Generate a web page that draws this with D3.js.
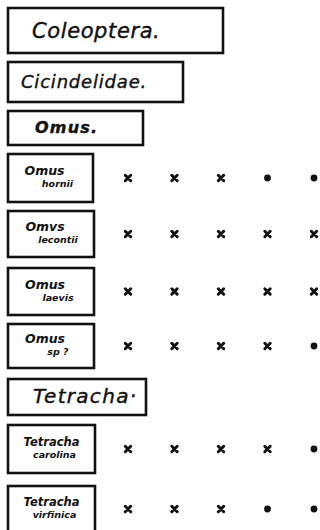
<!DOCTYPE html>
<html><head><meta charset="utf-8">
<script src="https://cdn.jsdelivr.net/npm/d3@7"></script>
<style>html,body{margin:0;padding:0;background:#fff;}svg{display:block;}</style>
</head><body>
<svg id="c" width="320" height="530"></svg>
<script>
// ---- data ----
const rowNames = ["Coleoptera", "Cicindelidae", "Omus", "Omus hornii", "Omus lecontii", "Omus laevis", "Omus sp?", "Tetracha", "Tetracha carolina", "Tetracha virfinica"];
const rowKinds = ["header", "header", "header", "species", "species", "species", "species", "header", "species", "species"];
const rowLine1 = ["Coleoptera.", "Cicindelidae.", "Omus.", "Omus", "Omvs", "Omus", "Omus", "Tetracha·", "Tetracha", "Tetracha"];
const rowLine2 = ["", "", "", "hornii", "lecontii", "laevis", "sp ?", "", "carolina", "virfinica"];
const columns = ["1", "2", "3", "4", "5"];
// presence marks per species: "x" cross, "o" dot
const omusHornii = ["x", "x", "x", "o", "o"];
const omusLecontii = ["x", "x", "x", "x", "x"];
const omusLaevis = ["x", "x", "x", "x", "x"];
const omusSp = ["x", "x", "x", "x", "o"];
const tetrachaCarolina = ["x", "x", "x", "x", "o"];
const tetrachaVirfinica = ["x", "x", "x", "o", "o"];
const marksByRow = {
  "Omus hornii": omusHornii, "Omus lecontii": omusLecontii, "Omus laevis": omusLaevis,
  "Omus sp?": omusSp, "Tetracha carolina": tetrachaCarolina, "Tetracha virfinica": tetrachaVirfinica
};

// ---- layout (not data) ----
const L = {
  left: 8,
  tops: [8, 62, 111, 154, 211, 268, 324, 379, 425, 486],
  heights: [45, 40, 34, 48, 46, 47, 44, 36, 48, 46],
  widths: [215, 175, 135, 85, 86, 86, 86, 138, 87, 87],
  headerFont: [21, 18, 16, null, null, null, null, 20, null, null],
  headerX: [32, 21, 35, null, null, null, null, 33, null, null],
  headerBase: [30, 26, 22, null, null, null, null, 24, null, null],
  headerWeight: ["normal", "normal", "bold", null, null, null, null, "normal", null, null],
  headerSpacing: [0.6, 0.8, 1.2, null, null, null, null, 1.3, null, null]
};

const svg = d3.select("#c");
const x = d3.scalePoint().domain(columns).range([128, 314]);
const yTop = d3.scaleOrdinal().domain(rowNames).range(L.tops);
const hOf = d3.scaleOrdinal().domain(rowNames).range(L.heights);
const wOf = d3.scaleOrdinal().domain(rowNames).range(L.widths);
const yc = n => yTop(n) + hOf(n) / 2;

const rows = rowNames.map((n, i) => ({name: n, i, kind: rowKinds[i], l1: rowLine1[i], l2: rowLine2[i]}));

const g = svg.selectAll("g.row").data(rows).join("g").attr("class", "row");

g.append("rect")
  .attr("x", L.left).attr("y", d => yTop(d.name))
  .attr("width", d => wOf(d.name)).attr("height", d => hOf(d.name))
  .attr("fill", "#fff").attr("stroke", "#111").attr("stroke-width", 2.6);

const fam = "'DejaVu Sans', sans-serif";

g.filter(d => d.kind === "header").append("text")
  .attr("x", d => L.headerX[d.i])
  .attr("y", d => yTop(d.name) + L.headerBase[d.i])
  .attr("font-family", fam).attr("font-style", "italic")
  .attr("font-weight", d => L.headerWeight[d.i])
  .attr("font-size", d => L.headerFont[d.i])
  .attr("letter-spacing", d => L.headerSpacing[d.i])
  .attr("fill", "#111").attr("stroke", "#111").attr("stroke-width", 0.4)
  .text(d => d.l1);

const sp = g.filter(d => d.kind === "species");
sp.append("text")
  .attr("x", d => L.left + wOf(d.name) / 2 + (d.l1 === "Tetracha" ? 0 : -6))
  .attr("y", d => yc(d.name) - 3)
  .attr("text-anchor", "middle")
  .attr("font-family", fam).attr("font-style", "italic").attr("font-weight", "bold")
  .attr("font-size", d => d.l1 === "Tetracha" ? 11.5 : 12.5)
  .attr("fill", "#111")
  .text(d => d.l1);
sp.append("text")
  .attr("x", d => L.left + wOf(d.name) / 2 + (d.l1 === "Tetracha" ? 3 : 7))
  .attr("y", d => yc(d.name) + 9)
  .attr("text-anchor", "middle")
  .attr("font-family", fam).attr("font-style", "italic").attr("font-weight", "bold")
  .attr("font-size", 9.5)
  .attr("fill", "#111")
  .text(d => d.l2);

// marks
const cells = [];
rows.filter(d => d.kind === "species").forEach(d => {
  marksByRow[d.name].forEach((m, j) => cells.push({row: d.name, col: columns[j], m}));
});
const mk = svg.selectAll("g.mark").data(cells).join("g").attr("class", "mark")
  .attr("transform", d => `translate(${x(d.col)},${yc(d.row)})`);
mk.filter(d => d.m === "x").append("path")
  .attr("d", "M-2.7,-2.7L2.7,2.7M2.7,-2.7L-2.7,2.7")
  .attr("stroke", "#111").attr("stroke-width", 3).attr("stroke-linecap", "round");
mk.filter(d => d.m === "o").append("circle")
  .attr("r", 3.4).attr("fill", "#111");
</script>
</body></html>
